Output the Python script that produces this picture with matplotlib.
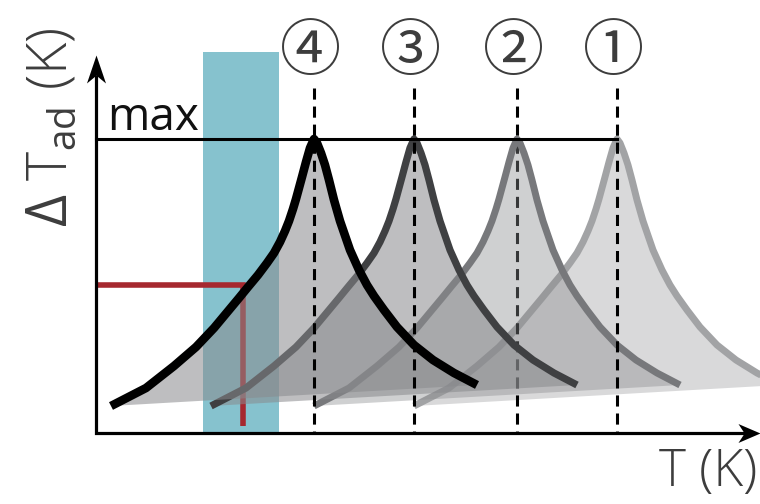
import matplotlib
matplotlib.use("Agg")
import matplotlib.pyplot as plt
from matplotlib.patches import Rectangle
from matplotlib.path import Path

plt.rcParams['font.family'] = ['Open Sans', 'DejaVu Sans']
plt.rcParams['mathtext.fontset'] = 'custom'
plt.rcParams['mathtext.rm'] = 'Open Sans'
plt.rcParams['mathtext.it'] = 'Open Sans:italic'
plt.rcParams['lines.scale_dashes'] = False

# ---------------- data (schematic units) ----------------
LABELS = ['①', '②', '③', '④']
PEAK_T = [5.21, 4.21, 3.18, 2.18]          # peak temperatures
DT_MAX = 2.94                               # common peak height ("max")
# shape of each cusp curve: offset from peak and height
LEFT_OFF = [-2.03, -1.68, -1.40, -1.18, -1.00, -0.85, -0.75, -0.66, -0.56,
            -0.47, -0.40, -0.34, -0.29, -0.25, -0.21, -0.18, -0.12, -0.08,
            -0.04, 0.0]
LEFT_H = [0.27, 0.45, 0.67, 0.86, 1.05, 1.23, 1.35, 1.46, 1.58,
          1.70, 1.80, 1.91, 2.02, 2.12, 2.24, 2.34, 2.56, 2.71,
          2.85, 2.94]
RIGHT_OFF = [0.03, 0.07, 0.11, 0.15, 0.20, 0.26, 0.36, 0.45, 0.53, 0.60,
             0.70, 0.83, 1.00, 1.19, 1.40, 1.63]
RIGHT_H = [2.90, 2.80, 2.68, 2.53, 2.33, 2.12, 1.83, 1.63, 1.48, 1.37,
           1.23, 1.06, 0.88, 0.73, 0.60, 0.48]
BAND_T = [1.07, 1.83]        # cyan working range
BAND_TOP = 3.81
OP_T, OP_DT = 1.47, 1.48     # red operating point
OP_BOTTOM = 0.07
DASH_TOP = 3.45
AXIS_T_END, AXIS_DT_END = 6.64, 3.78

# ---------------- style ----------------
LINE_COLORS = ['#a2a3a5', '#77787b', '#3f4042', '#000000']
LINE_WIDTHS = [5.0, 5.0, 5.2, 6.2]
FILL_COLOR = '#898a8d'
FILL_ALPHA = [0.32, 0.40, 0.55, 0.55]
DASH_Z = [30, 11.5, 30, 30]
TEXT_COLOR = '#3d3d3d'

fig = plt.figure(figsize=(7.6, 5.04), dpi=100)
ax = fig.add_axes([0, 0, 1, 1])
ax.set_xlim(-0.96, 6.64)
ax.set_ylim(-0.71, 4.33)
ax.axis('off')

# cyan band
ax.add_patch(Rectangle((BAND_T[0], 0), BAND_T[1] - BAND_T[0], BAND_TOP,
                       facecolor='#86c2ce', edgecolor='none', zorder=1))
# red operating point lines
ax.plot([0, OP_T, OP_T], [OP_DT, OP_DT, OP_BOTTOM], color='#a6282f', lw=4.0,
        solid_capstyle='butt', solid_joinstyle='miter', zorder=2)

shape_off = LEFT_OFF + RIGHT_OFF
shape_h = LEFT_H + RIGHT_H
for k, (lab, tp) in enumerate(zip(LABELS, PEAK_T)):
    xs = [tp + o for o in shape_off]
    ax.fill(xs, shape_h, color=FILL_COLOR, alpha=FILL_ALPHA[k], lw=0,
            zorder=10 + 2 * k)
    ax.plot(xs, shape_h, color=LINE_COLORS[k], lw=LINE_WIDTHS[k],
            solid_capstyle='butt', solid_joinstyle='round', zorder=11 + 2 * k)
    ax.plot([tp, tp], [DASH_TOP, 0], color='black', lw=2.2,
            dashes=(8, 5), zorder=DASH_Z[k])
    ax.text(tp - 0.03, 3.80, lab, ha='center', va='center', fontsize=44,
            color=TEXT_COLOR, family=['Noto Sans CJK JP', 'DejaVu Sans'],
            zorder=40)

# max line
ax.plot([0, PEAK_T[0]], [DT_MAX, DT_MAX], color='black', lw=2.2, zorder=25)
ax.text(0.11, 3.03, 'max', fontsize=33, ha='left', va='baseline',
        color='#111111', zorder=40)

# axes with arrows
ax.plot([0, 0, AXIS_T_END - 0.15], [AXIS_DT_END - 0.2, 0, 0], color='black',
        lw=2.3, solid_joinstyle='miter', solid_capstyle='butt', zorder=35)
head_x = Path([(0, 0), (-1, 0.43), (-0.72, 0), (-1, -0.43), (0, 0)],
              [Path.MOVETO, Path.LINETO, Path.LINETO, Path.LINETO, Path.CLOSEPOLY])
head_y = Path([(0, 0), (-0.34, -1), (0, -0.72), (0.34, -1), (0, 0)],
              [Path.MOVETO, Path.LINETO, Path.LINETO, Path.LINETO, Path.CLOSEPOLY])
ax.plot([AXIS_T_END], [0], marker=head_x, markersize=31.7, color='black',
        markeredgewidth=0, zorder=36, clip_on=False)
ax.plot([0], [AXIS_DT_END], marker=head_y, markersize=40.3, color='black',
        markeredgewidth=0, zorder=36, clip_on=False)

# axis labels
ax.text(-0.43, 3.06, r'$\Delta$ T$_{\rm ad}$ (K)', rotation=90, ha='center',
        va='center', fontsize=40, color=TEXT_COLOR, fontweight='light')
ax.text(6.61, -0.53, 'T (K)', ha='right', va='baseline', fontsize=37,
        color=TEXT_COLOR, fontweight='light')

fig.savefig('out.png', dpi=100)
